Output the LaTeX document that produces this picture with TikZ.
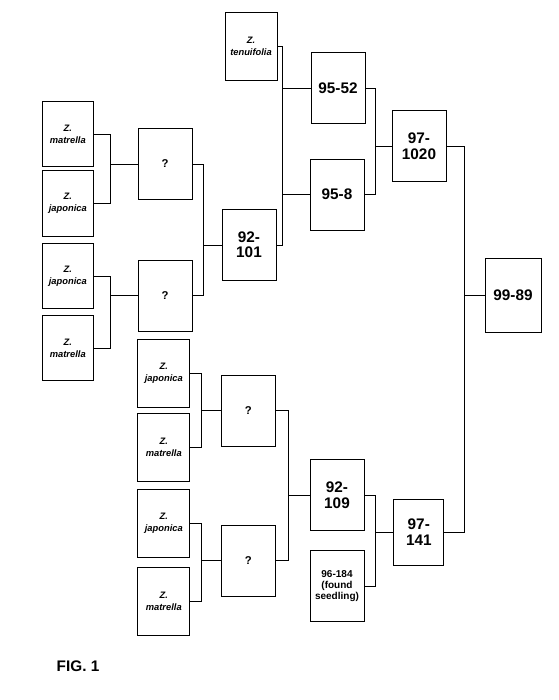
\documentclass[tikz,border=0pt]{standalone}
\usepackage{fontspec}
\setmainfont{Liberation Sans}

\begin{document}
\begin{tikzpicture}[x=0.75pt,y=0.75pt,yscale=-1,xscale=1,
  spbox/.style={draw, line width=0.6pt, minimum width=39pt, minimum height=51pt, inner sep=0pt, align=center, font=\fontsize{7}{9}\selectfont\bfseries\itshape},
  smallbox/.style={spbox, minimum width=38pt, minimum height=49pt},
  numbox/.style={draw, line width=0.6pt, minimum width=40.5pt, minimum height=53.25pt, inner sep=0pt, align=center, font=\fontsize{11.5}{11.5}\selectfont\bfseries},
  qbox/.style={numbox, font=\fontsize{8.5}{10}\selectfont\bfseries},
  link/.style={line width=0.6pt}]
%set diagram size 558 x 700
\useasboundingbox (0,0) rectangle (558,700);

%Species, first column
\node [smallbox] (zm1) at (67.8,134) {Z.\\matrella};
\node [smallbox] (zj1) at (67.8,203.5) {Z.\\japonica};
\node [smallbox] (zj2) at (67.8,276) {Z.\\japonica};
\node [smallbox] (zm2) at (67.8,348) {Z.\\matrella};
%Species, second column
\node [spbox] (ten) at (251,46) {Z.\\tenuifolia};
\node [spbox] (zj3) at (163.8,373) {Z.\\japonica};
\node [spbox] (zm3) at (163.8,447.7) {Z.\\matrella};
\node [spbox] (zj4) at (163.8,523.3) {Z.\\japonica};
\node [spbox] (zm4) at (163.8,601.7) {Z.\\matrella};

%Unknown crosses
\node [qbox] (q1) at (165,164) {?};
\node [qbox] (q2) at (165,295.5) {?};
\node [qbox] (q3) at (248.3,410.8) {?};
\node [qbox] (q4) at (248.3,560.7) {?};

%Selections
\node [numbox] (n92101) at (249,245) {92-\\101};
\node [numbox] (n9552) at (338,88) {95-52};
\node [numbox] (n958) at (337,194.5) {95-8};
\node [numbox] (n971020) at (419,146.3) {97-\\1020};
\node [numbox] (n92109) at (337,495.3) {92-\\109};
\node [numbox, font=\fontsize{7.5}{8.5}\selectfont\bfseries] (n96184) at (337,586.2) {96-184\\(found\\seedling)};
\node [numbox, minimum width=37.5pt, minimum height=50pt] (n97141) at (418.8,532.3) {97-\\141};
\node [numbox, minimum width=42pt, minimum height=55.5pt] (n9989) at (513,295.5) {99-89};

%Crosses
\draw [link] (zm1.east) -- ++(17,0) coordinate (fa) |- (zj1.east);
\draw [link] (q1.west) -- (q1.west -| fa);
\draw [link] (zj2.east) -- ++(17,0) coordinate (fb) |- (zm2.east);
\draw [link] (q2.west) -- (q2.west -| fb);
\draw [link] (q1.east) -- ++(10.6,0) coordinate (fc) |- (q2.east);
\draw [link] (n92101.west) -- (n92101.west -| fc);
\draw [link] (ten.east) -- ++(5,0) coordinate (fd) |- (n92101.east);
\draw [link] (n9552.west) -- (n9552.west -| fd);
\draw [link] (n958.west) -- (n958.west -| fd);
\draw [link] (n9552.east) -- ++(10.4,0) coordinate (fe) |- (n958.east);
\draw [link] (n971020.west) -- (n971020.west -| fe);
\draw [link] (zj3.east) -- ++(11,0) coordinate (ff) |- (zm3.east);
\draw [link] (q3.west) -- (q3.west -| ff);
\draw [link] (zj4.east) -- ++(11,0) coordinate (fg) |- (zm4.east);
\draw [link] (q4.west) -- (q4.west -| fg);
\draw [link] (q3.east) -- ++(13,0) coordinate (fh) |- (q4.east);
\draw [link] (n92109.west) -- (n92109.west -| fh);
\draw [link] (n92109.east) -- ++(11,0) coordinate (fi) |- (n96184.east);
\draw [link] (n97141.west) -- (n97141.west -| fi);
\draw [link] (n971020.east) -- ++(17.5,0) coordinate (fj) |- (n97141.east);
\draw [link] (n9989.west) -- (n9989.west -| fj);

% Text Node
\node (fig) at (78,666) {\fontsize{11.5}{13}\selectfont\bfseries FIG. 1};

\end{tikzpicture}
\end{document}
